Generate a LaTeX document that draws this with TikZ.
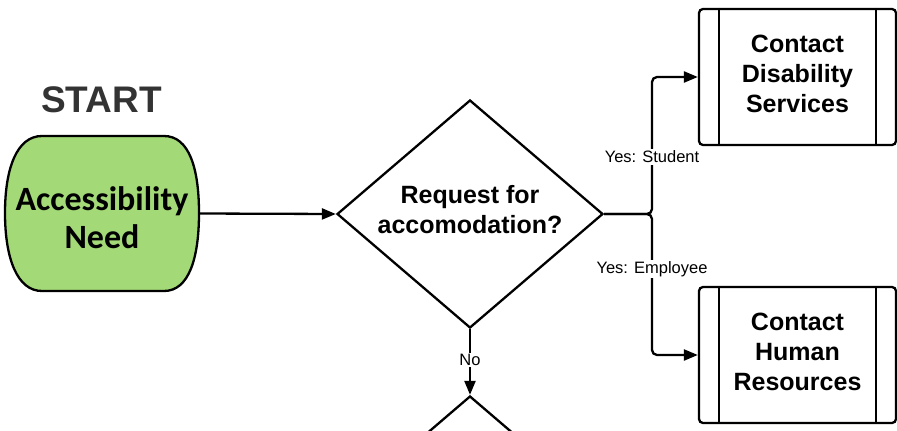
\documentclass[tikz,border=0pt]{standalone}
\usepackage{fontspec}
\setmainfont{Liberation Sans}
\newfontfamily\carlito{Carlito}
\usetikzlibrary{shapes.geometric,arrows.meta}
\definecolor{startgreen}{RGB}{163,217,119}
\definecolor{startgray}{RGB}{51,51,51}
\newcommand\liftlines[2]{\raisebox{#1}[0pt][0pt]{\begin{tabular}{@{}c@{}}#2\end{tabular}}}
\tikzset{
  line/.style={line width=2.3pt, draw=black},
  arr/.style={line, -{Triangle[length=14pt,width=11pt]}},
  dia/.style={shape=diamond, draw=black, line width=2.3pt, fill=white, minimum width=266pt, minimum height=228pt, inner sep=0pt, font=\bfseries\fontsize{25}{30}\selectfont},
  procbox/.style={draw=black, line width=2.3pt, rounded corners=4pt, fill=white, minimum width=197pt, minimum height=136pt, inner sep=0pt, font=\bfseries\fontsize{25}{30}\selectfont},
  lbl/.style={fill=white, inner sep=1.5pt, font=\fontsize{16.5}{19}\selectfont},
}
\begin{document}
\begin{tikzpicture}[x=1pt,y=-1pt]
\useasboundingbox (0,0) rectangle (897,431);
\clip (0,0) rectangle (897,431);
% START title
\node[text=startgray, font=\bfseries\fontsize{37}{40}\selectfont] (title) at (101.5,100) {START};
% start shape
\draw[line, fill=startgreen] (42,136) -- (164,136)
  .. controls (189,136) and (199,168) .. (199,213)
  .. controls (199,258) and (189,291) .. (164,291)
  -- (42,291)
  .. controls (17,291) and (5,258) .. (5,213)
  .. controls (5,168) and (17,136) .. (42,136) -- cycle;
\node[minimum width=194pt, minimum height=155pt, inner sep=0pt, font=\carlito\bfseries\fontsize{34}{38}\selectfont] (start) at (102,213.5) {\liftlines{-15pt}{Accessibility\\Need}};
% decision
\node[dia] (d) at (470,214) {\liftlines{-5pt}{Request for\\accomodation?}};
\node[dia] (d2) at (470,510) {};
% boxes
\node[procbox] (b1) at (797.5,77) {\liftlines{-5.5pt}{Contact\\Disability\\Services}};
\node[procbox] (b2) at (797.5,355) {\liftlines{-5.5pt}{Contact\\Human\\Resources}};
\foreach \b in {b1,b2}{
  \draw[line] ([xshift=-78.5pt]\b.north) -- ([xshift=-78.5pt]\b.south);
  \draw[line] ([xshift=78.5pt]\b.north) -- ([xshift=78.5pt]\b.south);
}
% connectors
\coordinate (j) at (652,214);
\draw[arr] (start.east) -- (d.west);
\draw[arr, rounded corners=5pt] (d.east) -- (j) |- (b1.west);
\draw[arr, rounded corners=5pt] (d.east) -- (j) |- (b2.west);
\node[lbl] (ls) at (652,157) {Yes: Student};
\node[lbl] (le) at (652,269) {Yes: Employee};
\draw[arr] (d.south) -- (d2.north);
\node[lbl] (no) at (470,360) {No};
\end{tikzpicture}
\end{document}
